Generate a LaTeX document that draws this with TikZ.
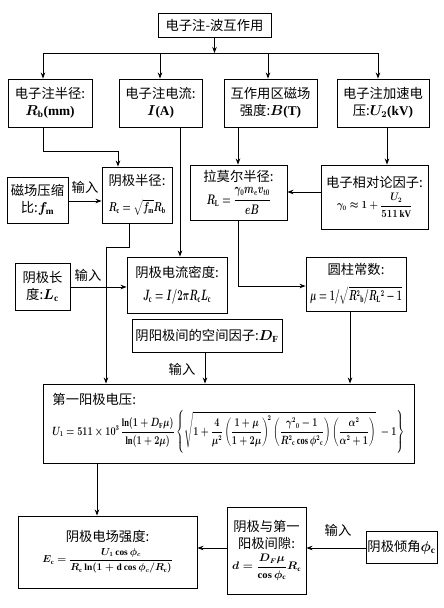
\documentclass[tikz,border=0pt]{standalone}
\usepackage{amsmath}
\usepackage{graphicx}
\usepackage{fontspec}
\setmainfont{Liberation Serif}
\newfontfamily\cjk{Noto Sans CJK SC}
\usetikzlibrary{arrows.meta}
\newcommand\zh[1]{{\cjk #1}}
\newcommand\bmm[1]{\mbox{\boldmath$#1$}}
\newcommand\fw[3]{\resizebox*{#1pt}{#2pt}{\bmm{\displaystyle #3}}}
\begin{document}
\begin{tikzpicture}[x=1pt,y=-1pt,
  box/.style={draw,line width=0.9pt,align=center,inner sep=1pt,font=\fontsize{13.3}{17}\selectfont},
  arr/.style={line width=0.8pt,-{Stealth[length=6pt,width=4.5pt]}},
  lab/.style={font=\fontsize{13.3}{16}\selectfont,inner sep=0pt}]
\useasboundingbox (0,0) rectangle (444,608);
\fill[white] (0,0) rectangle (444,608);

\node[box,minimum width=113pt,minimum height=24pt] (top) at (214.5,25) {\zh{电子注-波互作用}};
\node[box,minimum width=84pt,minimum height=48pt] (b1) at (50,103) {\zh{电子注半径:}\\\bmm{R_\mathrm{b}}\textbf{(mm)}};
\node[box,minimum width=83pt,minimum height=48pt] (b2) at (160.5,103) {\zh{电子注电流:}\\\bmm{I}\textbf{(A)}};
\node[box,minimum width=93pt,minimum height=48pt] (b3) at (270.5,103) {\zh{互作用区磁场}\\\zh{强度:}\bmm{B}\textbf{(T)}};
\node[box,minimum width=92pt,minimum height=48pt] (b4) at (383,103) {\zh{电子注加速电}\\\zh{压:}\bmm{U_2}\textbf{(kV)}};

\node[box,minimum width=61pt,minimum height=46pt] (fm) at (37.5,200) {\zh{磁场压缩}\\\zh{比:}\bmm{f_\mathrm{m}}};
\node[box,minimum width=70pt,minimum height=56pt] (rc) at (137,195) {\zh{阴极半径:}\\[9pt]\fw{57}{16}{R_\mathrm{c}=\sqrt{f_\mathrm{m}}R_\mathrm{b}}};
\node[box,minimum width=97pt,minimum height=55pt] (rl) at (238.5,192.5) {\zh{拉莫尔半径:}\\[4pt]\fw{64}{27}{R_\mathrm{L}=\frac{\gamma_0 m_e v_{t0}}{eB}}};
\node[box,minimum width=107pt,minimum height=64pt] (gam) at (374.5,197) {\zh{电子相对论因子:}\\[4pt]\fw{75}{24}{\gamma_0\approx1+\frac{U_2}{511\,\mathrm{kV}}}};

\node[box,minimum width=55pt,minimum height=47pt] (lc) at (42.5,286.5) {\zh{阴极长}\\\zh{度:}\bmm{L_\mathrm{c}}};
\node[box,minimum width=100pt,minimum height=56pt] (jc) at (177,285) {\zh{阴极电流密度:}\\[6pt]\fw{68}{15}{J_\mathrm{c}=I/2\pi R_\mathrm{c}L_\mathrm{c}}};
\node[box,minimum width=100pt,minimum height=54pt] (mu) at (356,284) {\zh{圆柱常数:}\\[9pt]\fw{92}{18}{\mu=1/\sqrt{R^2{}_\mathrm{b}/R_\mathrm{L}{}^2-1}}};

\node[box,minimum width=150pt,minimum height=33pt] (df) at (207,335.5) {\zh{阴阳极间的空间因子:}\bmm{D_\mathrm{F}}};

\node[box,align=left,minimum width=371pt,minimum height=79pt] (u1) at (228.5,423.5) {\zh{第一阳极电压:}\\[4pt]\fw{352}{43}{U_1=511\times10^3\,\frac{\ln(1+D_\mathrm{F}\mu)}{\ln(1+2\mu)}\left\{\sqrt{1+\frac{4}{\mu^2}\left(\frac{1+\mu}{1+2\mu}\right)^{\!2}\left(\frac{\gamma^2{}_0-1}{R^2{}_\mathrm{c}\cos\phi^2{}_\mathrm{c}}\right)\left(\frac{\alpha^2}{\alpha^2+1}\right)}\;-1\right\}}};

\node[box,minimum width=179pt,minimum height=72pt] (ec) at (107.5,552) {\zh{阴极电场强度:}\\[4pt]\fw{130}{25}{E_\mathrm{c}=\frac{U_1\cos\phi_c}{R_\mathrm{c}\ln(1+\mathrm{d}\cos\phi_c/R_\mathrm{c})}}};
\node[box,minimum width=79pt,minimum height=87pt] (d) at (266.5,550.5) {\zh{阴极与第一}\\\zh{阳极间隙:}\\[4pt]\fw{69}{26}{d=\frac{D_F\mu}{\cos\phi_\mathrm{c}}R_\mathrm{c}}};
\node[box,minimum width=71pt,minimum height=32pt] (phi) at (401.5,547) {\zh{阴极倾角}\bmm{\phi_\mathrm{c}}};

% labels
\node[lab] (l1) at (85,187) {\zh{输入}};
\node[lab] (l2) at (88,275) {\zh{输入}};
\node[lab] (l3) at (182,369) {\zh{输入}};
\node[lab] (l4) at (338,530) {\zh{输入}};

% coordinates
\coordinate (jL) at (43,53);
\coordinate (j2) at (160,53);
\coordinate (j3) at (268,53);
\coordinate (jR) at (378,53);
\coordinate (c1a) at (43,151);
\coordinate (c1b) at (118,151);
\coordinate (c2) at (180,0);
\coordinate (c3) at (238,0);
\coordinate (c4) at (387,0);
\coordinate (c5) at (0,192);
\coordinate (c6) at (0,201);
\coordinate (c7a) at (129,247);
\coordinate (c7b) at (106,247);
\coordinate (c8) at (0,287);
\coordinate (c9) at (238,286);
\coordinate (c10) at (350,0);
\coordinate (c11) at (205,0);
\coordinate (c12) at (97,0);
\coordinate (c13) at (0,548);

% connectors
\draw[arr] (top.south) -- (top.south |- jL);
\draw[line width=0.8pt] (jL) -- (jR);
\draw[arr] (jL) -- (jL |- b1.north);
\draw[arr] (j2) -- (j2 |- b2.north);
\draw[arr] (j3) -- (j3 |- b3.north);
\draw[arr] (jR) -- (jR |- b4.north);
\draw[arr] (c1a |- b1.south) -- (c1a) -- (c1b) -- (c1b |- rc.north);
\draw[arr] (c2 |- b2.south) -- (c2 |- jc.north);
\draw[arr] (c3 |- b3.south) -- (c3 |- rl.north);
\draw[arr] (c4 |- b4.south) -- (c4 |- gam.north);
\draw[arr] (gam.west |- c5) -- (rl.east |- c5);
\draw[arr] (fm.east |- c6) -- (rc.west |- c6);
\draw[arr] (c7a |- rc.south) -- (c7a) -- (c7b) -- (c7b |- u1.north);
\draw[arr] (lc.east |- c8) -- (jc.west |- c8);
\draw[arr] (c3 |- rl.south) -- (c9) -- (mu.west |- c9);
\draw[arr] (c10 |- mu.south) -- (c10 |- u1.north);
\draw[arr] (c11 |- df.south) -- (c11 |- u1.north);
\draw[arr] (c12 |- u1.south) -- (c12 |- ec.north);
\draw[arr] (phi.west |- c13) -- (d.east |- c13);
\draw[arr] (d.west |- c13) -- (ec.east |- c13);
\end{tikzpicture}
\end{document}
